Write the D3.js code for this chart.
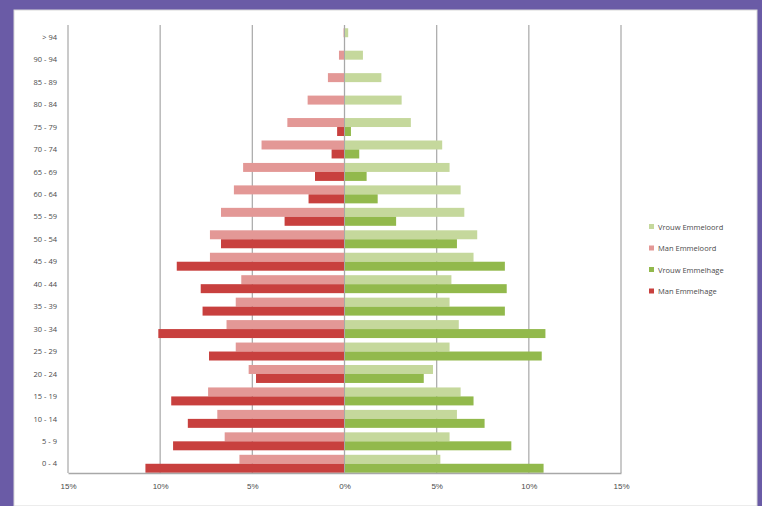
<!DOCTYPE html>
<html>
<head>
<meta charset="utf-8">
<script src="https://cdn.jsdelivr.net/npm/d3@7"></script>
<style>
  body { margin: 0; background: #6a5ba6; }
  svg { display: block; font-family: "Open Sans", "DejaVu Sans", sans-serif; }
</style>
</head>
<body>
<svg id="chart" width="762" height="506"></svg>
<script>
// age groups, bottom to top
const ageGroups = ["0 - 4", "5 - 9", "10 - 14", "15 - 19", "20 - 24", "25 - 29", "30 - 34", "35 - 39",
    "40 - 44", "45 - 49", "50 - 54", "55 - 59", "60 - 64", "65 - 69", "70 - 74", "75 - 79",
    "80 - 84", "85 - 89", "90 - 94", "> 94"];

// percentages per age group (same order as ageGroups)
const vrouwEmmeloord = [5.2, 5.7, 6.1, 6.3, 4.8, 5.7, 6.2, 5.7, 5.8, 7.0, 7.2, 6.5, 6.3, 5.7, 5.3, 3.6, 3.1, 2.0, 1.0, 0.2];
const manEmmeloord   = [5.7, 6.5, 6.9, 7.4, 5.2, 5.9, 6.4, 5.9, 5.6, 7.3, 7.3, 6.7, 6.0, 5.5, 4.5, 3.1, 2.0, 0.9, 0.3, 0.05];
const vrouwEmmelhage = [10.8, 9.05, 7.6, 7.0, 4.3, 10.7, 10.9, 8.7, 8.8, 8.7, 6.1, 2.8, 1.8, 1.2, 0.8, 0.35, 0, 0, 0, 0];
const manEmmelhage   = [10.8, 9.3, 8.5, 9.4, 4.8, 7.35, 10.1, 7.7, 7.8, 9.1, 6.7, 3.25, 1.95, 1.6, 0.7, 0.4, 0, 0, 0, 0];

const xTicks = [-15, -10, -5, 0, 5, 10, 15];

const series = [
    { name: "Vrouw Emmeloord", values: vrouwEmmeloord, sign: 1, color: "#c5d89c", slot: 0 },
    { name: "Man Emmeloord", values: manEmmeloord, sign: -1, color: "#e39896", slot: 0 },
    { name: "Vrouw Emmelhage", values: vrouwEmmelhage, sign: 1, color: "#92b94c", slot: 1 },
    { name: "Man Emmelhage", values: manEmmelhage, sign: -1, color: "#c8403e", slot: 1 }
];

const svg = d3.select("#chart");

// white chart panel
svg.append("rect")
    .attr("x", 14).attr("y", 10)
    .attr("width", 743).attr("height", 496)
    .attr("fill", "#ffffff")
    .attr("stroke", "#d8d8d8");

const x = d3.scaleLinear().domain([-15, 15]).range([68, 621]);
const y = d3.scaleBand().domain(ageGroups.slice().reverse()).range([26, 475]).paddingInner(0.2).paddingOuter(0.1);

// gridlines
svg.append("g")
    .selectAll("line")
    .data(xTicks)
    .enter()
    .append("line")
    .attr("x1", d => x(d)).attr("x2", d => x(d))
    .attr("y1", 25).attr("y2", 473)
    .attr("stroke", "#aeaeae")
    .attr("stroke-width", 1.3);

// bars
const bh = y.bandwidth() / 2;
series.forEach(s => {
    svg.append("g")
        .selectAll("rect")
        .data(s.values.map((v, i) => ({ age: ageGroups[i], v: v * s.sign })))
        .enter()
        .append("rect")
        .attr("x", d => Math.min(x(0), x(d.v)))
        .attr("y", d => y(d.age) + s.slot * bh)
        .attr("width", d => Math.abs(x(d.v) - x(0)))
        .attr("height", bh)
        .attr("fill", s.color);
});

// center axis line
svg.append("line")
    .attr("x1", x(0)).attr("x2", x(0))
    .attr("y1", 25).attr("y2", 473)
    .attr("stroke", "#a8a8a8");

// x axis
const xAxis = svg.append("g")
    .attr("transform", "translate(0,473)")
    .call(d3.axisBottom(x).tickValues(xTicks).tickFormat(d => Math.abs(d) + "%").tickSize(0).tickSizeOuter(0));
xAxis.select(".domain").attr("stroke", "#a8a8a8").attr("stroke-width", 1.3);
xAxis.selectAll("text").attr("font-size", 8).attr("fill", "#4a4a4a").attr("dy", "1.6em");

// category labels
svg.append("g")
    .selectAll("text")
    .data(ageGroups)
    .enter()
    .append("text")
    .attr("x", 57)
    .attr("y", d => y(d) + y.bandwidth() / 2)
    .attr("dy", "0.35em")
    .attr("text-anchor", "end")
    .attr("font-size", 7.5)
    .attr("fill", "#4a4a4a")
    .text(d => d);

// legend
const legend = svg.append("g")
    .selectAll("g")
    .data(series)
    .enter()
    .append("g")
    .attr("transform", (d, i) => `translate(652,${227 + i * 21.5})`);
legend.append("rect")
    .attr("x", -3).attr("y", -3)
    .attr("width", 5).attr("height", 5)
    .attr("fill", d => d.color);
legend.append("text")
    .attr("x", 6)
    .attr("dy", "0.35em")
    .attr("font-size", 7.5)
    .attr("fill", "#4a4a4a")
    .text(d => d.name);
</script>
</body>
</html>
